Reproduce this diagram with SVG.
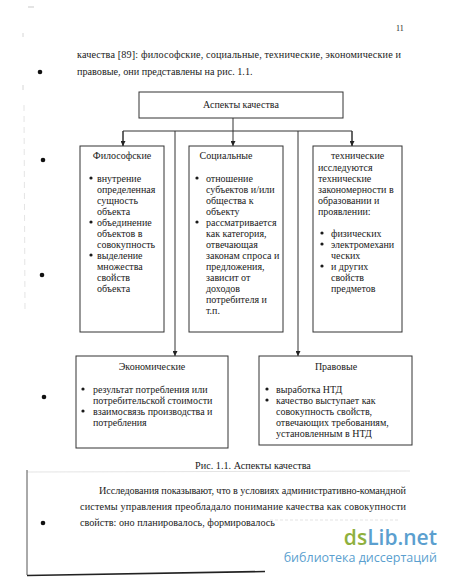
<svg xmlns="http://www.w3.org/2000/svg" width="450" height="577" viewBox="0 0 450 577">
<defs>
<style>
.t{font-family:"Liberation Serif","Times New Roman",serif;font-size:10px;fill:#1a1a1a}
.b{font-family:"Liberation Serif","Times New Roman",serif;font-size:10.2px;fill:#1a1a1a}
.c{text-anchor:middle}
.box{fill:#fff;stroke:#333;stroke-width:1}
.ln{fill:none;stroke:#333;stroke-width:1}
.dot{fill:#1a1a1a}
.mark{fill:#111}
</style>
<marker id="ah" viewBox="0 0 10 10" refX="10" refY="5" markerWidth="5" markerHeight="5" orient="auto" markerUnits="userSpaceOnUse">
<path d="M0,0 L10,5 L0,10 z" fill="#222"/>
</marker>
</defs>
<rect width="450" height="577" fill="#fff"/>

<!-- page marks -->
<g id="page-marks">
<line x1="28" y1="7" x2="34" y2="7" stroke="#bbb" stroke-width="0.8"/>
<line x1="23" y1="33" x2="23" y2="37" stroke="#ccc" stroke-width="0.8"/>
<line x1="23" y1="85" x2="23" y2="90" stroke="#ccc" stroke-width="0.8"/>
<line x1="24" y1="105" x2="25" y2="310" stroke="#ddd" stroke-width="0.8" stroke-dasharray="6,5"/>
<circle class="mark" cx="40" cy="72" r="2.3"/>
<circle class="mark" cx="43" cy="160" r="2.3"/>
<circle class="mark" cx="42" cy="275" r="2.3"/>
<circle class="mark" cx="44" cy="397" r="2.3"/>
<circle class="mark" cx="43" cy="523" r="2.3"/>
<line x1="27" y1="472" x2="410" y2="471" stroke="#ddd" stroke-width="0.8"/>
<line x1="27" y1="470" x2="27" y2="575" stroke="#555" stroke-width="1"/>
<line x1="27" y1="575.5" x2="265" y2="571.5" stroke="#222" stroke-width="1.6"/>
<line x1="270" y1="520" x2="400" y2="520" stroke="#e3e3e3" stroke-width="1" stroke-dasharray="3,2"/>
</g>

<!-- page text -->
<g id="page-text">
<text class="t" x="396" y="31" style="font-size:8px">11</text>
<text class="b" x="77" y="58" textLength="324" lengthAdjust="spacing">качества [89]: философские, социальные, технические, экономические и</text>
<text class="b" x="77" y="75">правовые, они представлены на рис. 1.1.</text>
<text class="b c" x="253" y="469">Рис. 1.1. Аспекты качества</text>
<text class="b" x="99" y="494" textLength="307" lengthAdjust="spacing">Исследования показывают, что в условиях административно-командной</text>
<text class="b" x="80" y="510" textLength="326" lengthAdjust="spacing">системы управления преобладало понимание качества как совокупности</text>
<text class="b" x="80" y="526">свойств: оно планировалось, формировалось</text>
</g>

<!-- connectors -->
<g id="connectors">
<line class="ln" x1="233" y1="118" x2="233" y2="146" marker-end="url(#ah)"/>
<polyline class="ln" points="123,146 123,131 352,131 352,146" />
<line class="ln" x1="123" y1="131" x2="123" y2="146" marker-end="url(#ah)"/>
<line class="ln" x1="352" y1="131" x2="352" y2="146" marker-end="url(#ah)"/>
<line class="ln" x1="175" y1="131" x2="175" y2="356" marker-end="url(#ah)"/>
<line class="ln" x1="298" y1="131" x2="298" y2="356" marker-end="url(#ah)"/>
</g>

<g id="top">
<rect class="box" x="139" y="92" width="204" height="26"/>
<text class="t c" x="241" y="108">Аспекты качества</text>
</g>

<g id="philosophical">
<rect class="box" x="80" y="146" width="84" height="186"/>
<text class="t c" x="122" y="158.5">Философские</text>
<circle class="dot" cx="91" cy="178" r="1.6"/>
<circle class="dot" cx="91" cy="222" r="1.6"/>
<circle class="dot" cx="91" cy="255" r="1.6"/>
<text class="t" x="97" y="181.5">внутрение</text>
<text class="t" x="97" y="192.5">определенная</text>
<text class="t" x="97" y="203.5">сущность</text>
<text class="t" x="97" y="214.5">объекта</text>
<text class="t" x="97" y="225.5">объединение</text>
<text class="t" x="97" y="236.5">объектов в</text>
<text class="t" x="97" y="247.5">совокупность</text>
<text class="t" x="97" y="258.5">выделение</text>
<text class="t" x="97" y="269.5">множества</text>
<text class="t" x="97" y="280.5">свойств</text>
<text class="t" x="97" y="291.5">объекта</text>
</g>

<g id="social">
<rect class="box" x="189" y="146" width="94" height="186"/>
<text class="t c" x="226" y="158.5">Социальные</text>
<circle class="dot" cx="197" cy="178" r="1.6"/>
<circle class="dot" cx="197" cy="222" r="1.6"/>
<text class="t" x="206" y="181.5">отношение</text>
<text class="t" x="206" y="192.5">субъектов и/или</text>
<text class="t" x="206" y="203.5">общества к</text>
<text class="t" x="206" y="214.5">объекту</text>
<text class="t" x="206" y="225.5">рассматривается</text>
<text class="t" x="206" y="236.5">как категория,</text>
<text class="t" x="206" y="247.5">отвечающая</text>
<text class="t" x="206" y="258.5">законам спроса и</text>
<text class="t" x="206" y="269.5">предложения,</text>
<text class="t" x="206" y="280.5">зависит от</text>
<text class="t" x="206" y="291.5">доходов</text>
<text class="t" x="206" y="302.5">потребителя и</text>
<text class="t" x="206" y="313.5">т.п.</text>
</g>

<g id="technical">
<rect class="box" x="313" y="146" width="89" height="186"/>
<text class="t" x="331" y="158.5">технические</text>
<text class="t" x="318" y="170.5">исследуются</text>
<text class="t" x="318" y="181.5">технические</text>
<text class="t" x="318" y="192.5">закономерности в</text>
<text class="t" x="318" y="203.5">образовании и</text>
<text class="t" x="318" y="214.5">проявлении:</text>
<circle class="dot" cx="322" cy="233" r="1.6"/>
<circle class="dot" cx="322" cy="244" r="1.6"/>
<circle class="dot" cx="322" cy="266" r="1.6"/>
<text class="t" x="331" y="236.5">физических</text>
<text class="t" x="331" y="247.5">электромехани</text>
<text class="t" x="331" y="258.5">ческих</text>
<text class="t" x="331" y="269.5">и других</text>
<text class="t" x="331" y="280.5">свойств</text>
<text class="t" x="331" y="291.5">предметов</text>
</g>

<g id="economic">
<rect class="box" x="76" y="356" width="152" height="92"/>
<text class="t c" x="152" y="369.5">Экономические</text>
<circle class="dot" cx="83" cy="389" r="1.6"/>
<circle class="dot" cx="83" cy="411" r="1.6"/>
<text class="t" x="93" y="392.5">результат потребления или</text>
<text class="t" x="93" y="403.5">потребительской стоимости</text>
<text class="t" x="93" y="414.5">взаимосвязь производства и</text>
<text class="t" x="93" y="425.5">потребления</text>
</g>

<g id="legal">
<rect class="box" x="259" y="356" width="153" height="89"/>
<text class="t c" x="336" y="369.5">Правовые</text>
<circle class="dot" cx="267" cy="389" r="1.6"/>
<circle class="dot" cx="267" cy="400" r="1.6"/>
<text class="t" x="276" y="392.5">выработка НТД</text>
<text class="t" x="276" y="403.5">качество выступает как</text>
<text class="t" x="276" y="414.5">совокупность свойств,</text>
<text class="t" x="276" y="425.5">отвечающих требованиям,</text>
<text class="t" x="276" y="436.5">установленным в НТД</text>
</g>

<g id="watermark">
<text x="437" y="545" text-anchor="end" style="font-family:'Open Sans','DejaVu Sans',sans-serif;font-size:21px;font-weight:600"><tspan fill="#8fb03e">ds</tspan><tspan fill="#5b9fcf">Lib.net</tspan></text>
<text x="437" y="562" text-anchor="end" style="font-family:'Open Sans','DejaVu Sans',sans-serif;font-size:12.5px;fill:#5b9fcf">библиотека диссертаций</text>
</g>
</svg>
